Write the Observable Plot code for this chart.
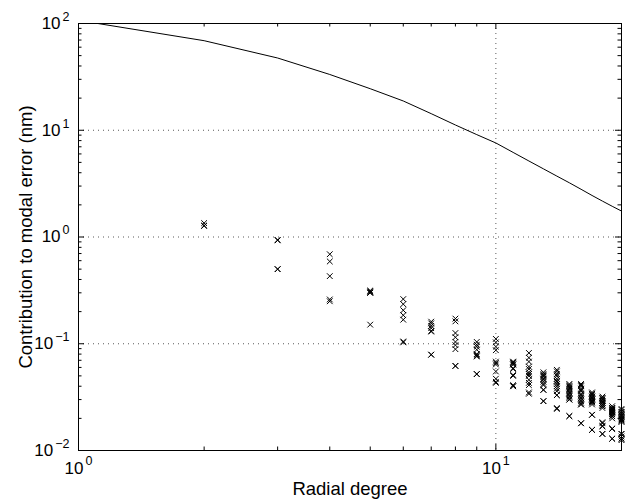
<!DOCTYPE html>
<html>
<head>
<meta charset="utf-8">
<script src="https://cdn.jsdelivr.net/npm/d3@7"></script>
<script src="https://cdn.jsdelivr.net/npm/@observablehq/plot@0.6"></script>
<style>
  html, body { margin: 0; padding: 0; background: #fff; }
  #chart svg { display: block; }
</style>
</head>
<body>
<div id="chart"></div>
<script>
// Total modal error (solid line) by radial degree
const lineDegrees = [1, 2, 3, 4, 5, 6, 7, 8, 9, 10, 11, 12, 13, 14, 15, 16, 17, 18, 19, 20];
const lineErrors = [107, 69, 47.5, 33.3, 24.5, 18.8, 14.3, 11.2, 9.1, 7.6, 6.2, 5.15, 4.35, 3.72, 3.22, 2.8, 2.45, 2.17, 1.94, 1.75];

// Individual mode contributions (crosses), one list per radial degree
const modeDegrees = [2, 3, 4, 5, 6, 7, 8, 9, 10, 11, 12, 13, 14, 15, 16, 17, 18, 19, 20];
const modeErrors = [
  [1.35, 1.28, 1.27],
  [0.94, 0.93, 0.50, 0.50],
  [0.69, 0.59, 0.43, 0.26, 0.25],
  [0.315, 0.31, 0.305, 0.30, 0.30, 0.151],
  [0.262, 0.235, 0.206, 0.185, 0.168, 0.105, 0.103],
  [0.161, 0.155, 0.147, 0.140, 0.132, 0.130, 0.079, 0.079],
  [0.172, 0.162, 0.126, 0.115, 0.104, 0.097, 0.089, 0.062, 0.062],
  [0.104, 0.098, 0.094, 0.088, 0.080, 0.079, 0.077, 0.076, 0.052, 0.052],
  [0.111, 0.103, 0.094, 0.087, 0.068, 0.066, 0.064, 0.055, 0.047, 0.044, 0.043],
  [0.068, 0.067, 0.066, 0.064, 0.064, 0.059, 0.058, 0.051, 0.050, 0.041, 0.040, 0.040],
  [0.082, 0.074, 0.068, 0.061, 0.058, 0.054, 0.052, 0.050, 0.046, 0.043, 0.041, 0.035, 0.034],
  [0.054, 0.052, 0.051, 0.050, 0.049, 0.047, 0.046, 0.044, 0.042, 0.041, 0.037, 0.037, 0.029, 0.029],
  [0.057, 0.055, 0.052, 0.050, 0.047, 0.045, 0.044, 0.042, 0.040, 0.038, 0.036, 0.033, 0.033, 0.025, 0.0245],
  [0.042, 0.041, 0.040, 0.039, 0.038, 0.037, 0.036, 0.035, 0.034, 0.033, 0.032, 0.031, 0.030, 0.030, 0.021, 0.021],
  [0.042, 0.041, 0.040, 0.038, 0.037, 0.036, 0.034, 0.033, 0.032, 0.031, 0.030, 0.029, 0.028, 0.027, 0.027, 0.018, 0.018],
  [0.035, 0.034, 0.034, 0.033, 0.032, 0.032, 0.031, 0.030, 0.030, 0.029, 0.029, 0.0285, 0.028, 0.027, 0.0216, 0.0216, 0.0156, 0.0156],
  [0.032, 0.031, 0.031, 0.030, 0.029, 0.029, 0.028, 0.028, 0.027, 0.027, 0.026, 0.026, 0.025, 0.0184, 0.018, 0.017, 0.0168, 0.0143, 0.0143],
  [0.026, 0.025, 0.025, 0.0245, 0.024, 0.024, 0.0235, 0.023, 0.023, 0.0228, 0.022, 0.022, 0.021, 0.021, 0.020, 0.016, 0.016, 0.016, 0.0129, 0.0129],
  [0.0245, 0.024, 0.023, 0.023, 0.022, 0.022, 0.0212, 0.021, 0.021, 0.020, 0.020, 0.0195, 0.019, 0.019, 0.0185, 0.0143, 0.0143, 0.0135, 0.0129, 0.0129, 0.0125]
];

// Axis ticks and labels
const xMajorTicks = [1, 10];
const xMinorTicks = [2, 3, 4, 5, 6, 7, 8, 9, 20];
const yMajorTicks = [0.01, 0.1, 1, 10, 100];
const yMinorTicks = [0.02, 0.03, 0.04, 0.05, 0.06, 0.07, 0.08, 0.09,
  0.2, 0.3, 0.4, 0.5, 0.6, 0.7, 0.8, 0.9, 2, 3, 4, 5, 6, 7, 8, 9,
  20, 30, 40, 50, 60, 70, 80, 90];
const xGrid = [10];
const yGrid = [0.1, 1, 10];
const xTitle = "Radial degree";
const yTitle = "Contribution to modal error (nm)";

const lineData = lineDegrees.map((n, i) => ({n, v: lineErrors[i]}));
const modeData = modeDegrees.flatMap((n, i) => modeErrors[i].map(v => ({n, v})));

const W = 626, H = 502;
const mL = 78, mR = 5, mT = 23, mB = 52;
const iw = W - mL - mR, ih = H - mT - mB;
const majorLen = 6, minorLen = 3.5;
const expFmt = d => `10^${Math.round(Math.log10(d))}`;

const chart = Plot.plot({
  width: W,
  height: H,
  marginLeft: mL,
  marginRight: mR,
  marginTop: mT,
  marginBottom: mB,
  style: {fontFamily: "'Liberation Sans', Arial, Helvetica, sans-serif", background: "#fff", color: "#000"},
  x: {type: "log", domain: [1, 20]},
  y: {type: "log", domain: [0.01, 100]},
  marks: [
    Plot.ruleX(xGrid, {x: d => d, stroke: "#000", strokeOpacity: 0.65, strokeDasharray: "1,4"}),
    Plot.ruleY(yGrid, {y: d => d, stroke: "#000", strokeOpacity: 0.65, strokeDasharray: "1,4"}),
    // inward ticks on all four sides
    Plot.tickY(yMajorTicks, {y: d => d, insetRight: iw - majorLen, stroke: "#000"}),
    Plot.tickY(yMajorTicks, {y: d => d, insetLeft: iw - majorLen, stroke: "#000"}),
    Plot.tickY(yMinorTicks, {y: d => d, insetRight: iw - minorLen, stroke: "#000"}),
    Plot.tickY(yMinorTicks, {y: d => d, insetLeft: iw - minorLen, stroke: "#000"}),
    Plot.tickX(xMajorTicks, {x: d => d, insetTop: ih - majorLen, stroke: "#000"}),
    Plot.tickX(xMajorTicks, {x: d => d, insetBottom: ih - majorLen, stroke: "#000"}),
    Plot.tickX(xMinorTicks, {x: d => d, insetTop: ih - minorLen, stroke: "#000"}),
    Plot.tickX(xMinorTicks, {x: d => d, insetBottom: ih - minorLen, stroke: "#000"}),
    Plot.line(lineData, {x: "n", y: "v", stroke: "#000", strokeWidth: 1, clip: true}),
    Plot.dot(modeData, {x: "n", y: "v", symbol: "times", r: 2.7, stroke: "#000", strokeWidth: 1}),
    Plot.frame({stroke: "#000"}),
    Plot.axisX(xMajorTicks, {tickSize: 0, tickPadding: 11, tickFormat: expFmt, fontSize: 17,
      label: xTitle, labelAnchor: "center", labelOffset: 44, labelArrow: "none"}),
    Plot.axisY(yMajorTicks, {tickSize: 0, tickPadding: 9, tickFormat: expFmt, fontSize: 17,
      label: yTitle, labelAnchor: "center", labelOffset: 60, labelArrow: "none"})
  ]
});

// Superscript exponents in the tick labels
const svg = d3.select(chart.tagName.toLowerCase() === "svg" ? chart : chart.querySelector("svg"));
svg.selectAll('g[aria-label="x-axis tick label"] text, g[aria-label="y-axis tick label"] text').each(function() {
  const t = this.textContent;
  if (!t.includes("^")) return;
  const [base, exp] = t.split("^");
  const sel = d3.select(this);
  sel.text(null);
  sel.append("tspan").text(base);
  sel.append("tspan").attr("dy", "-0.65em").attr("dx", "2").attr("font-size", "12.5px").text(exp.replace("-", "\u2212"));
});
svg.selectAll('g[aria-label="x-axis label"] text, g[aria-label="y-axis label"] text').attr("font-size", 18.5);

document.getElementById("chart").appendChild(chart);
</script>
</body>
</html>
